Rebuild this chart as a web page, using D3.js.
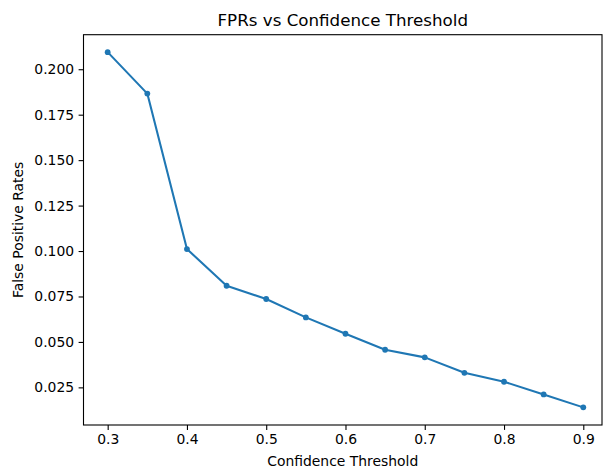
<!DOCTYPE html>
<html><head><meta charset="utf-8">
<script src="https://cdn.jsdelivr.net/npm/d3@7"></script>
<style>body{margin:0;background:#fff}svg{display:block}text{font-family:"DejaVu Sans",sans-serif;fill:#000}</style>
</head><body>
<script>
const thresholds = [0.3,0.35,0.4,0.45,0.5,0.55,0.6,0.65,0.7,0.75,0.8,0.85,0.9];
const fprs = [0.2094,0.1866,0.1011,0.0809,0.0736,0.0635,0.0545,0.0457,0.0415,0.0330,0.0281,0.0211,0.0140];
const xTicks = [0.3,0.4,0.5,0.6,0.7,0.8,0.9];
const yTicks = [0.025,0.05,0.075,0.1,0.125,0.15,0.175,0.2];
const title = "FPRs vs Confidence Threshold";
const xLabel = "Confidence Threshold";
const yLabel = "False Positive Rates";

const W=604,H=471;
const L=83.5,R=602,T=34.7,B=425;
const svg=d3.select("body").append("svg").attr("width",W).attr("height",H);
const x=d3.scaleLinear().domain([0.2695,0.9236]).range([L,R]);
const y=d3.scaleLinear().domain([0.0043,0.2190]).range([B,T]);

const xa=svg.append("g").attr("transform",`translate(0,${B})`)
  .call(d3.axisBottom(x).tickValues(xTicks).tickFormat(d3.format(".1f")).tickSize(4.9).tickPadding(4.5));
const ya=svg.append("g").attr("transform",`translate(${L},0)`)
  .call(d3.axisLeft(y).tickValues(yTicks).tickFormat(d3.format(".3f")).tickSize(4.9).tickPadding(4.5));
[xa,ya].forEach(a=>{a.select(".domain").remove();a.selectAll("text").attr("font-size",13.9).attr("font-family","DejaVu Sans");a.selectAll("line").attr("stroke","#000").attr("stroke-width",1.1);});

svg.append("rect").attr("x",L).attr("y",T).attr("width",R-L).attr("height",B-T)
  .attr("fill","none").attr("stroke","#000").attr("stroke-width",1.1);

const line=d3.line().x((d,i)=>x(thresholds[i])).y(d=>y(d));
svg.append("path").datum(fprs).attr("d",line).attr("fill","none").attr("stroke","#1f77b4").attr("stroke-width",2.08).attr("stroke-linejoin","round");
svg.selectAll("circle.pt").data(fprs).enter().append("circle").attr("class","pt")
  .attr("cx",(d,i)=>x(thresholds[i])).attr("cy",d=>y(d)).attr("r",2.9).attr("fill","#1f77b4");

svg.append("text").attr("x",(L+R)/2).attr("y",26).attr("text-anchor","middle").attr("font-size",16.7).text(title);
svg.append("text").attr("x",(L+R)/2).attr("y",466).attr("text-anchor","middle").attr("font-size",13.9).text(xLabel);
svg.append("text").attr("transform",`translate(23,${(T+B)/2}) rotate(-90)`).attr("text-anchor","middle").attr("font-size",13.9).text(yLabel);
</script>
</body></html>
